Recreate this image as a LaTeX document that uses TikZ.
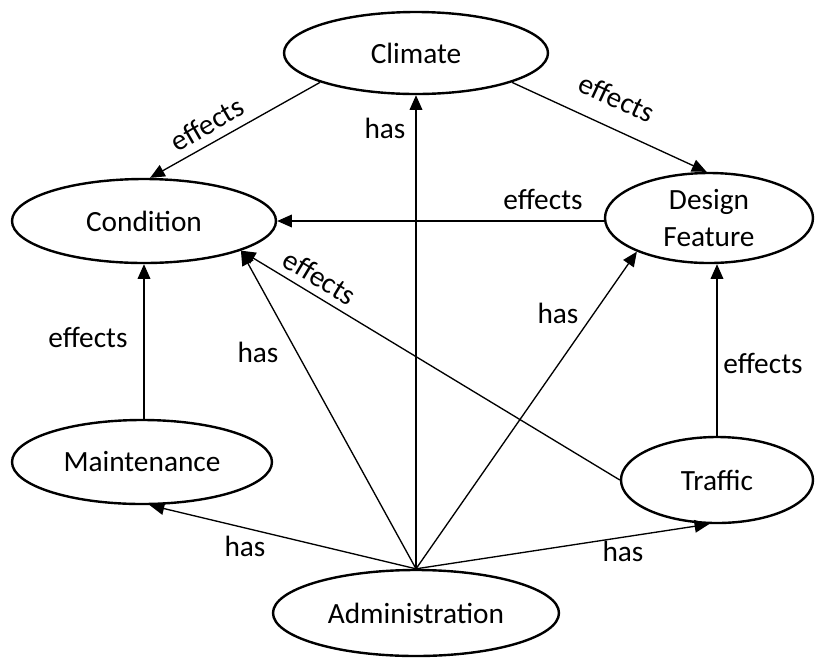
\documentclass[tikz,border=0pt]{standalone}
\usepackage{fontspec}
\setmainfont{Carlito}
\usetikzlibrary{shapes.geometric,arrows.meta}
\begin{document}
\begin{tikzpicture}[x=0.75pt,y=-0.75pt,
  entity/.style={draw,ellipse,line width=1.8pt,inner sep=0pt,
    font=\fontsize{22}{28}\selectfont,align=center},
  rel/.style={draw,line width=1pt,-{Triangle[length=11pt,width=9.5pt]}},
  lbl/.style={font=\fontsize{22}{27}\selectfont,inner sep=0pt}]
\useasboundingbox (0,0) rectangle (815,662);

% entities
\node[entity,minimum width=198pt,minimum height=61.5pt] (climate) at (416,53) {Climate};
\node[entity,minimum width=198pt,minimum height=63pt] (cond) at (144,221) {Condition};
\node[entity,minimum width=156pt,minimum height=67.5pt] (design) at (709,218) {Design\\Feature};
\node[entity,minimum width=195pt,minimum height=63pt] (maint) at (142,462) {Maintenance};
\node[entity,minimum width=144pt,minimum height=64.5pt] (traffic) at (717,480) {Traffic};
\node[entity,minimum width=214.5pt,minimum height=64.5pt] (admin) at (416,613) {Administration};

% "effects" relations
\draw[rel] (climate.197) -- (cond.82);
\draw[rel] (climate.-17) -- (design.93);
\draw[rel] (cond.east -| design.west) -- (cond.east);
\draw[rel] (traffic.west) -- (cond.-17);
\draw[rel] (maint.north -| cond.south) -- (cond.south);
\draw[rel] (traffic.north) -- (traffic.north |- design.south);

% "has" relations
\draw[rel] (admin.north) -- (climate.south);
\draw[rel] (admin.north) -- (cond.-17);
\draw[rel] (admin.north) -- (design.205);
\draw[rel] (admin.north) -- (maint.-80);
\draw[rel] (admin.north) -- (traffic.-100);

% labels
\node[lbl,rotate=30] (l1) at (207,124) {effects};
\node[lbl,rotate=-25] (l2) at (617,98) {effects};
\node[lbl] (l3) at (385,128) {has};
\node[lbl] (l4) at (543,199) {effects};
\node[lbl,rotate=-31] (l5) at (320,277) {effects};
\node[lbl] (l6) at (258,352) {has};
\node[lbl] (l7) at (558,313) {has};
\node[lbl] (l8) at (88,337) {effects};
\node[lbl] (l9) at (763,363) {effects};
\node[lbl] (l10) at (245,546) {has};
\node[lbl] (l11) at (623,551) {has};
\end{tikzpicture}
\end{document}
